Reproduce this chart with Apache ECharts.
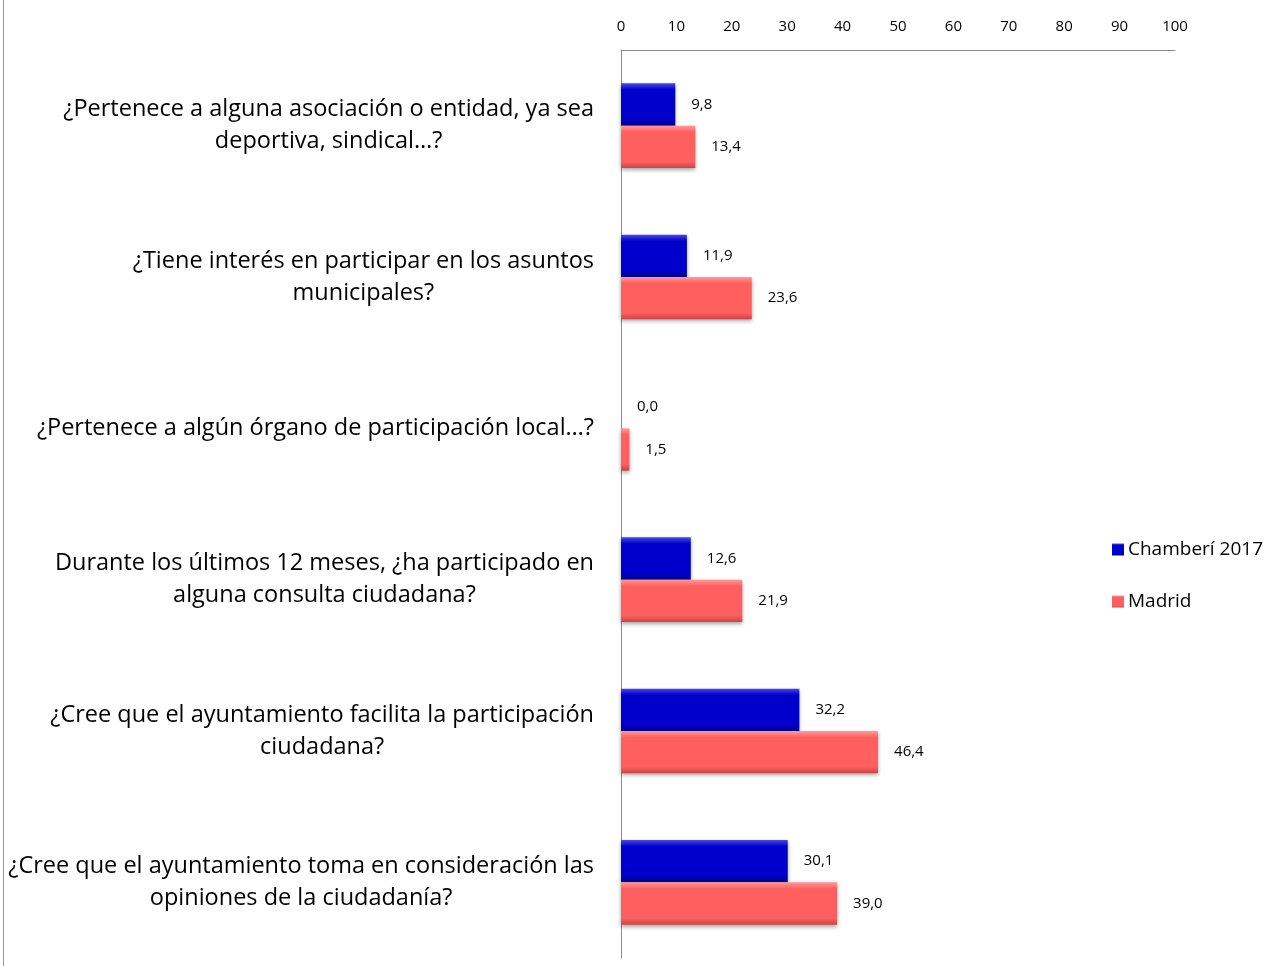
<!DOCTYPE html>
<html>
<head>
<meta charset="utf-8">
<script src="https://cdn.jsdelivr.net/npm/echarts@6/dist/echarts.min.js"></script>
<style>
  html, body { margin: 0; padding: 0; background: #fff; }
  #frame { position: absolute; left: 3px; top: 0; width: 1px; height: 966px; background: #6b9bd8; }
  #chart { width: 1281px; height: 966px; }
</style>
</head>
<body>
<div id="chart"></div>
<div id="frame"></div>
<script>
// preguntas (de arriba a abajo)
const questions = [
  ['¿Pertenece a alguna asociación o entidad, ya sea', 'deportiva, sindical…?'],
  ['¿Tiene interés en participar en los asuntos', 'municipales?'],
  ['¿Pertenece a algún órgano de participación local…?'],
  ['Durante los últimos 12 meses, ¿ha participado en', 'alguna consulta ciudadana?'],
  ['¿Cree que el ayuntamiento facilita la participación', 'ciudadana?'],
  ['¿Cree que el ayuntamiento toma en consideración las', 'opiniones de la ciudadanía?']
]
const chamberi = [9.8, 11.9, 0.0, 12.6, 32.2, 30.1]
const madrid = [13.4, 23.6, 1.5, 21.9, 46.4, 39.0]
const seriesNames = ['Chamberí 2017', 'Madrid']

const font = '"Open Sans", "Noto Sans", sans-serif'

// degradado vertical para imitar el biselado de Excel
function grad(top, mid, bottom) {
  return new echarts.graphic.LinearGradient(0, 0, 0, 1, [
    { offset: 0, color: top },
    { offset: 0.15, color: mid },
    { offset: 0.85, color: mid },
    { offset: 1, color: bottom }
  ])
}

const fmt = p => p.value.toFixed(1).replace('.', ',')

const chart = echarts.init(document.getElementById('chart'), null, { renderer: 'canvas' })

chart.setOption({
  animation: false,
  textStyle: { fontFamily: font },
  grid: { left: 621, right: 106, top: 50, bottom: 8, containLabel: false },
  legend: {
    orient: 'vertical',
    left: 1112,
    top: 540,
    padding: 0,
    itemWidth: 12,
    itemHeight: 12,
    itemGap: 33,
    icon: 'rect',
    textStyle: { fontSize: 19, color: '#000', fontFamily: font, padding: [0, 0, 0, -1] },
    data: seriesNames
  },
  xAxis: {
    type: 'value',
    position: 'top',
    min: 0,
    max: 100,
    interval: 10,
    axisLine: { show: true, lineStyle: { color: '#8c8c8c', width: 1 } },
    axisTick: { show: false },
    splitLine: { show: false },
    axisLabel: { fontSize: 15, color: '#000', margin: 16, fontFamily: font }
  },
  yAxis: {
    type: 'category',
    inverse: true,
    data: questions.map(q => q.map(l => '{a|' + l + '}').join('\n')),
    axisLine: { show: true, lineStyle: { color: '#8c8c8c', width: 1 } },
    axisTick: { show: false },
    axisLabel: {
      margin: 27,
      color: '#000',
      fontSize: 23.5,
      lineHeight: 32,
      fontFamily: font,
      rich: { a: { align: 'center', fontSize: 23.5, lineHeight: 32, color: '#000', fontFamily: font } }
    }
  },
  series: [
    {
      name: seriesNames[0],
      type: 'bar',
      data: chamberi,
      barGap: '0%',
      barCategoryGap: '44%',
      itemStyle: {
        color: grad('#4a4ae6', '#0000cc', '#00008a'),
        shadowColor: 'rgba(0,0,0,0.35)',
        shadowBlur: 4,
        shadowOffsetY: 2
      },
      label: { show: true, position: 'right', distance: 16, fontSize: 15, color: '#000', fontFamily: font, formatter: fmt }
    },
    {
      name: seriesNames[1],
      type: 'bar',
      data: madrid,
      barGap: '0%',
      barCategoryGap: '44%',
      itemStyle: {
        color: grad('#ff9a9a', '#ff5f5f', '#c94444'),
        shadowColor: 'rgba(0,0,0,0.35)',
        shadowBlur: 4,
        shadowOffsetY: 2
      },
      label: { show: true, position: 'right', distance: 16, fontSize: 15, color: '#000', fontFamily: font, formatter: fmt }
    }
  ]
})
</script>
</body>
</html>
